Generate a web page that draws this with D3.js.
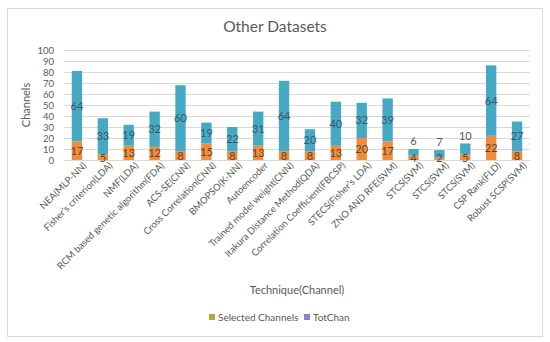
<!DOCTYPE html>
<html>
<head>
<meta charset="utf-8">
<script src="https://cdn.jsdelivr.net/npm/d3@7"></script>
<style>
  body { margin: 0; background: #fff; }
  svg { font-family: Lato, "Open Sans", sans-serif; }
</style>
</head>
<body>
<svg width="550" height="342"></svg>
<script>
// техники (ось X)
const techniques = ["NEA(MLP-NN)", "Fisher\u2019s criterion(LDA)", "NMF(LDA)", "RCM based genetic algorithm(FDA)",
  "ACS-SE(CNN)", "Cross Correlation(CNN)", "BMOPSO(K-NN)", "Autoencoder", "Trained model weight(CNN)",
  "Itakura Distance Method(QDA)", "Correlation Coefficient(FBCSP)", "STECS(Fisher\u2019s LDA)", "ZNO AND RFE(SVM)",
  "STCS(SVM)", "STCS(SVM)", "STCS(SVM)", "CSP Rank(FLD)", "Robust SCSP(SVM)"];
const selected = [17, 5, 13, 12, 8, 15, 8, 13, 8, 8, 13, 20, 17, 4, 2, 5, 22, 8];
const totChan = [64, 33, 19, 32, 60, 19, 22, 31, 64, 20, 40, 32, 39, 6, 7, 10, 64, 27];
const yTicks = [0, 10, 20, 30, 40, 50, 60, 70, 80, 90, 100];

const svg = d3.select("svg");
const area = { left: 64, right: 530, top: 50, bottom: 160 };

// рамка диаграммы
svg.append("rect").attr("x", 7.5).attr("y", 8.5).attr("width", 535).attr("height", 328)
  .attr("fill", "#fff").attr("stroke", "#d9d9d9");

svg.append("text").attr("x", 275).attr("y", 32).attr("text-anchor", "middle")
  .attr("font-size", 15.5).attr("fill", "#595959").text("Other Datasets");

const data = techniques.map((t, i) => ({ id: i, label: t, sel: selected[i], tot: totChan[i] }));

const scX = d3.scaleBand().domain(data.map(d => d.id)).range([area.left, area.right]).paddingInner(0.6).paddingOuter(0.3);
const scY = d3.scaleLinear().domain([0, 100]).range([area.bottom, area.top]);

// сетка
svg.append("g").selectAll("line").data(yTicks).enter().append("line")
  .attr("x1", area.left).attr("x2", area.right)
  .attr("y1", d => scY(d) + 0.5).attr("y2", d => scY(d) + 0.5)
  .attr("stroke", "#d9d9d9").attr("stroke-width", 1);

// ось Y
const axisY = svg.append("g").attr("transform", `translate(${area.left},0)`)
  .call(d3.axisLeft(scY).tickValues(yTicks).tickSize(0).tickPadding(10));
axisY.select(".domain").remove();
axisY.selectAll("text").attr("font-size", 9.5).attr("fill", "#595959").attr("font-family", "Lato");

svg.append("text").attr("transform", "translate(30,105) rotate(-90)").attr("text-anchor", "middle")
  .attr("font-size", 11).attr("fill", "#595959").text("Channels");

// ось X
const axisX = svg.append("g").attr("transform", `translate(0,${area.bottom})`)
  .call(d3.axisBottom(scX).tickSize(0).tickPadding(4).tickFormat(i => techniques[i]));
axisX.select(".domain").attr("stroke", "#d9d9d9");
axisX.selectAll("text").attr("font-size", 9.5).attr("fill", "#595959").attr("font-family", "Lato")
  .style("text-anchor", "end").attr("dx", "0.3em").attr("dy", "0.8em")
  .attr("transform", "rotate(-45)");

// столбцы
const bars = svg.append("g");
bars.selectAll(".sel").data(data).enter().append("rect")
  .attr("x", d => scX(d.id)).attr("width", scX.bandwidth())
  .attr("y", d => scY(d.sel)).attr("height", d => scY(0) - scY(d.sel))
  .attr("fill", "#f08c3c");
bars.selectAll(".tot").data(data).enter().append("rect")
  .attr("x", d => scX(d.id)).attr("width", scX.bandwidth())
  .attr("y", d => scY(d.sel + d.tot)).attr("height", d => scY(d.sel) - scY(d.sel + d.tot))
  .attr("fill", "#45a9c4");

// подписи значений
bars.selectAll(".lsel").data(data).enter().append("text")
  .attr("x", d => scX(d.id) + scX.bandwidth() / 2)
  .attr("y", d => d.sel < 6 ? scY(0) + 2 : scY(d.sel / 2) + 4)
  .attr("text-anchor", "middle").attr("font-size", 11).attr("fill", "#5a4632")
  .text(d => d.sel);
bars.selectAll(".ltot").data(data).enter().append("text")
  .attr("x", d => scX(d.id) + scX.bandwidth() / 2)
  .attr("y", d => d.tot < 12 ? scY(d.sel + d.tot) - 4 : scY(d.sel + d.tot / 2) + 4)
  .attr("text-anchor", "middle").attr("font-size", 11)
  .attr("fill", d => d.tot < 12 ? "#595959" : "#36596a")
  .text(d => d.tot);

svg.append("text").attr("x", 297).attr("y", 294).attr("text-anchor", "middle")
  .attr("font-size", 11).attr("fill", "#595959").text("Technique(Channel)");

// легенда
const legend = [{ name: "Selected Channels", color: "#a9ac3c" }, { name: "TotChan", color: "#8187c8" }];
const lx = [209, 304];
legend.forEach((l, i) => {
  svg.append("rect").attr("x", lx[i]).attr("y", 314).attr("width", 6).attr("height", 6).attr("fill", l.color);
  svg.append("text").attr("x", lx[i] + 9).attr("y", 320.5).attr("font-size", 10).attr("fill", "#595959").text(l.name);
});
</script>
</body>
</html>
